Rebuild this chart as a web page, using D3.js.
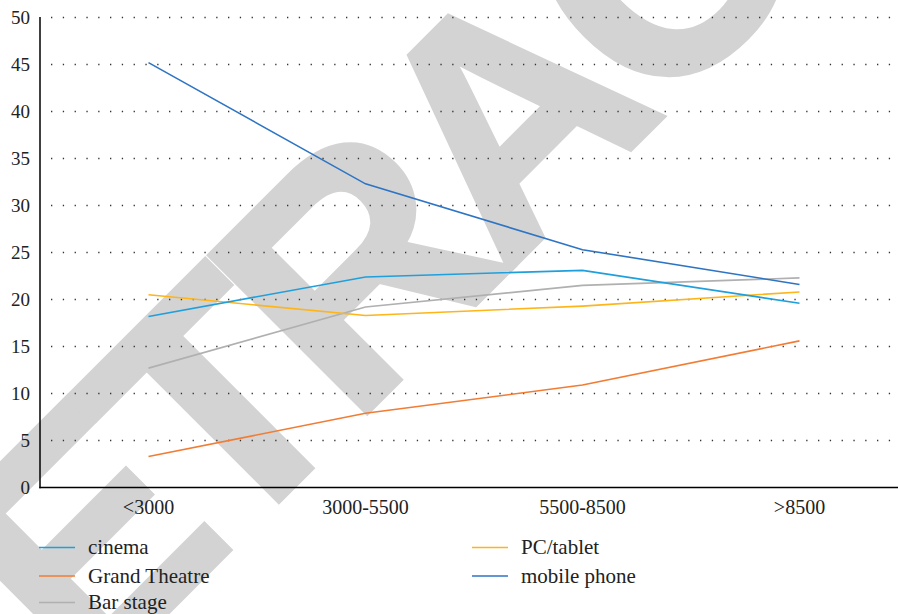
<!DOCTYPE html>
<html>
<head>
<meta charset="utf-8">
<script src="https://cdn.jsdelivr.net/npm/d3@7"></script>
<style>
  html, body { margin: 0; padding: 0; background: #fff; }
  svg { display: block; }
</style>
</head>
<body>
<div id="chart"></div>
<script>
// ---- data ----
const categories = ["<3000", "3000-5500", "5500-8500", ">8500"];
const cinema       = [18.2, 22.4, 23.1, 19.6];
const grandTheatre = [3.3, 7.9, 10.9, 15.6];
const barStage     = [12.7, 19.2, 21.5, 22.3];
const pcTablet     = [20.5, 18.3, 19.3, 20.8];
const mobilePhone  = [45.2, 32.3, 25.3, 21.6];
const seriesNames  = ["cinema", "Grand Theatre", "Bar stage", "PC/tablet", "mobile phone"];
const yTicks = [0, 5, 10, 15, 20, 25, 30, 35, 40, 45, 50];
const watermarkText = "RETRACTED";

const colors = {
  "cinema": "#1f9fdc",
  "Grand Theatre": "#f27c34",
  "Bar stage": "#b0b0b0",
  "PC/tablet": "#fdb51a",
  "mobile phone": "#2e74c4"
};
const seriesData = {
  "cinema": cinema,
  "Grand Theatre": grandTheatre,
  "Bar stage": barStage,
  "PC/tablet": pcTablet,
  "mobile phone": mobilePhone
};

const W = 898, H = 614;
const svg = d3.select("#chart").append("svg").attr("width", W).attr("height", H);

// watermark (beneath everything)
svg.append("text")
  .attr("transform", "translate(-66,846) rotate(-45)")
  .attr("font-family", "'Liberation Sans', Arial, sans-serif")
  .attr("font-weight", "bold")
  .attr("font-size", 324)
  .attr("letter-spacing", -19)
  .attr("fill", "#d3d3d3")
  .attr("stroke", "#d3d3d3")
  .attr("stroke-width", 5)
  .attr("stroke-linejoin", "miter")
  .text(watermarkText);

const x = d3.scaleBand().domain(categories).range([40, 908]);
const y = d3.scaleLinear().domain([0, 50]).range([487.5, 17.5]);
const serif = "'Liberation Serif', 'Times New Roman', serif";

// grid (dotted)
svg.append("g").selectAll("line")
  .data(yTicks.filter(d => d > 0))
  .join("line")
  .attr("x1", 51).attr("x2", W)
  .attr("y1", d => y(d)).attr("y2", d => y(d))
  .attr("stroke", "#333")
  .attr("stroke-width", 1.3)
  .attr("stroke-dasharray", "1.3,10.5");

// y axis
const yAxis = d3.axisLeft(y).tickValues(yTicks).tickSize(0).tickPadding(10);
const gy = svg.append("g").attr("transform", "translate(40,0)").call(yAxis);
gy.select(".domain").remove();
gy.selectAll("text").attr("font-family", serif).attr("font-size", 19).attr("fill", "#222");
svg.append("line").attr("x1", 40).attr("x2", 40).attr("y1", 17).attr("y2", 488.2)
  .attr("stroke", "#000").attr("stroke-width", 1.5);

// x axis
const xAxis = d3.axisBottom(x).tickSize(0).tickPadding(12);
const gx = svg.append("g").attr("transform", "translate(0,487.5)").call(xAxis);
gx.select(".domain").remove();
gx.selectAll("text").attr("font-family", serif).attr("font-size", 20).attr("fill", "#222");
svg.append("line").attr("x1", 39.3).attr("x2", W).attr("y1", 487.5).attr("y2", 487.5)
  .attr("stroke", "#000").attr("stroke-width", 1.5);

// lines
const line = d3.line()
  .x((d, i) => x(categories[i]) + x.bandwidth() / 2)
  .y(d => y(d));
const drawOrder = ["Bar stage", "PC/tablet", "Grand Theatre", "cinema", "mobile phone"];
svg.append("g").selectAll("path")
  .data(drawOrder)
  .join("path")
  .attr("d", k => line(seriesData[k]))
  .attr("fill", "none")
  .attr("stroke", k => colors[k])
  .attr("stroke-width", 1.6);

// legend
const legendPos = [
  {name: "cinema", x: 39, y: 547.5},
  {name: "Grand Theatre", x: 39, y: 576},
  {name: "Bar stage", x: 39, y: 602.5},
  {name: "PC/tablet", x: 472, y: 547.5},
  {name: "mobile phone", x: 472, y: 576}
];
const lg = svg.append("g").selectAll("g").data(legendPos).join("g")
  .attr("transform", d => `translate(${d.x},${d.y})`);
lg.append("line").attr("x1", 0).attr("x2", 36).attr("y1", 0).attr("y2", 0)
  .attr("stroke", d => colors[d.name]).attr("stroke-width", 1.6);
lg.append("text").attr("x", 49).attr("y", 6.5)
  .attr("font-family", serif).attr("font-size", 21).attr("fill", "#222")
  .text(d => d.name);
</script>
</body>
</html>
